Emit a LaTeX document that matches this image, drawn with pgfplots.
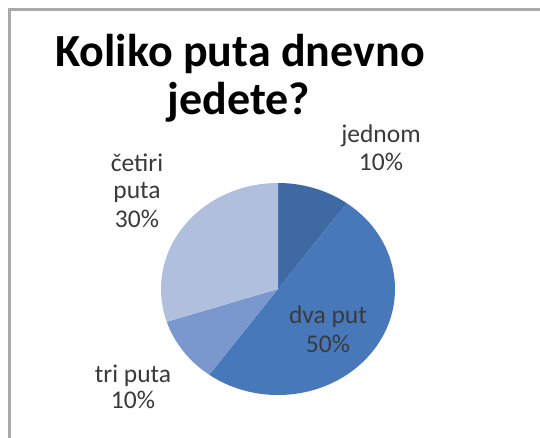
\documentclass[border=0pt]{standalone}
\usepackage{pgfplots}
\usepackage{pgfplotstable}
\pgfplotsset{compat=1.18}
\usepackage{fontspec}
\setmainfont{Carlito}

\definecolor{s0}{HTML}{3F69A3}
\definecolor{s1}{HTML}{4778BA}
\definecolor{s2}{HTML}{7A98CD}
\definecolor{s3}{HTML}{B1BFDF}
\definecolor{lbl}{HTML}{3A3A3A}
\definecolor{frame}{HTML}{AAAAAA}

% share of answers, in percent, clockwise from 12 o'clock
\pgfplotstableread{
name pct
jednom 10
{dva put} 50
{tri puta} 10
{četiri puta} 30
}\piedata

\begin{document}
\begin{tikzpicture}
\fill[white,use as bounding box] (0,0) rectangle (540pt,438pt);

% start/end angle of every slice from the table
\xdef\angstart{90}
\foreach \i in {0,...,3}{
  \pgfplotstablegetelem{\i}{pct}\of\piedata
  \pgfmathsetmacro\angend{\angstart-3.6*\pgfplotsretval}
  \expandafter\xdef\csname sa\i\endcsname{\angstart}
  \expandafter\xdef\csname sb\i\endcsname{\angend}
  \xdef\angstart{\angend}
}

\begin{axis}[at={(0,0)}, anchor=south west,
    scale only axis, width=540pt, height=438pt,
    xmin=0, xmax=540, ymin=0, ymax=438, y dir=reverse,
    hide axis, clip=false]

\pgfplotsinvokeforeach{0,...,3}{
  \fill[s#1] (axis cs:278,289) -- ++(\csname sa#1\endcsname:117pt and 106pt)
    arc[start angle=\csname sa#1\endcsname, end angle=\csname sb#1\endcsname,
        x radius=117pt, y radius=106pt] -- cycle;
}

% frame
\draw[frame, line width=3pt] (axis cs:9,438) -- (axis cs:9,10) -- (axis cs:540,10);

% title
\node[anchor=base, font=\fontsize{46}{48}\selectfont\bfseries] at (axis cs:240,67) {Koliko puta dnevno};
\node[anchor=base, font=\fontsize{46}{48}\selectfont\bfseries] at (axis cs:239,115) {jedete?};

% data labels
\begin{scope}[every node/.style={anchor=base, text=lbl, font=\fontsize{25.5}{28}\selectfont}]
\node at (axis cs:381,143) {jednom};
\node at (axis cs:381,171) {10\%};
\node at (axis cs:328,323) {dva put};
\node at (axis cs:328,352) {50\%};
\node at (axis cs:133,382) {tri puta};
\node at (axis cs:133,408) {10\%};
\node at (axis cs:137,172) {četiri};
\node at (axis cs:137,199) {puta};
\node at (axis cs:137,227) {30\%};
\end{scope}
\end{axis}
\end{tikzpicture}
\end{document}
